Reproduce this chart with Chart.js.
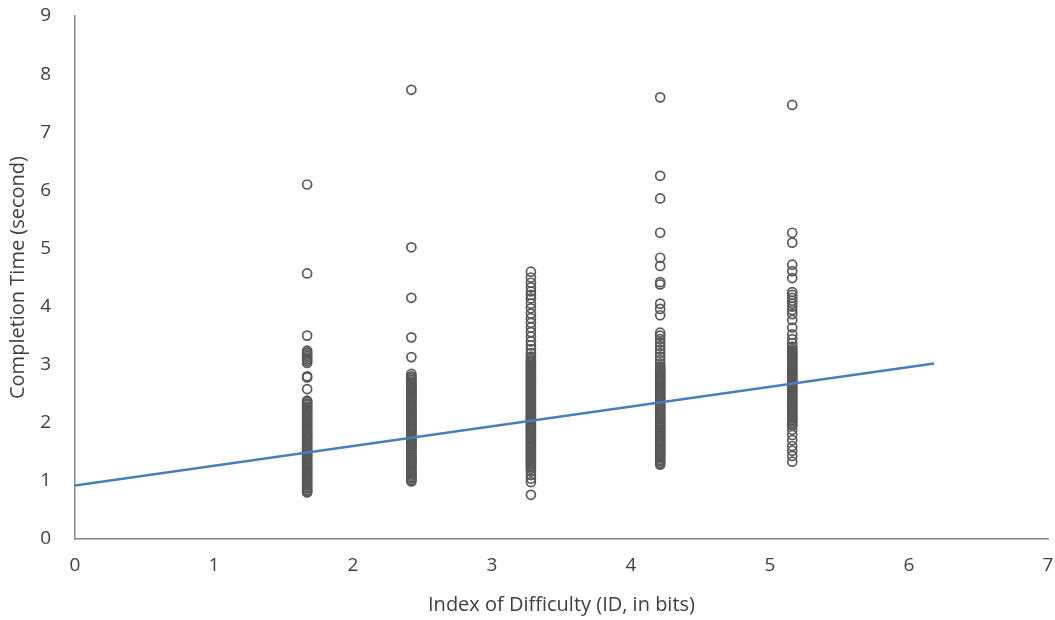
<!DOCTYPE html>
<html>
<head>
<meta charset="utf-8">
<script src="https://cdn.jsdelivr.net/npm/chart.js@4/dist/chart.umd.min.js"></script>
<style>
  html, body { margin: 0; padding: 0; background: #fff; }
  #wrap { width: 1055px; height: 620px; position: relative; }
</style>
</head>
<body>
<div id="wrap"><canvas id="chart"></canvas></div>
<script>
(function () {
  'use strict';

  // index of difficulty (bits) for each target condition
  var idValues = [1.67, 2.42, 3.28, 4.21, 5.16];

  // completion times (seconds), one list per ID
  var timesId1 = [6.1, 4.57, 3.5, 3.24, 3.21, 3.18, 3.15, 3.12, 3.09, 3.06, 3.03, 2.8, 2.78, 2.58,
    2.38, 2.36, 2.33, 2.31, 2.28, 2.26, 2.23, 2.2, 2.18, 2.15, 2.13, 2.1, 2.08, 2.05, 2.02, 2.0,
    1.97, 1.95, 1.92, 1.9, 1.87, 1.84, 1.82, 1.79, 1.77, 1.74, 1.72, 1.69, 1.66, 1.64, 1.61, 1.59,
    1.56, 1.54, 1.51, 1.48, 1.46, 1.43, 1.41, 1.38, 1.36, 1.33, 1.3, 1.28, 1.25, 1.23, 1.2, 1.18,
    1.15, 1.12, 1.1, 1.07, 1.05, 1.02, 1.0, 0.97, 0.94, 0.92, 0.89, 0.87, 0.84, 0.82, 0.8];
  var timesId2 = [7.73, 5.02, 4.15, 3.47, 3.13, 2.84, 2.8, 2.77, 2.74, 2.71, 2.68, 2.66, 2.63, 2.61,
    2.58, 2.56, 2.53, 2.5, 2.48, 2.45, 2.43, 2.4, 2.38, 2.35, 2.32, 2.3, 2.27, 2.25, 2.22, 2.2,
    2.17, 2.14, 2.12, 2.09, 2.07, 2.04, 2.02, 1.99, 1.96, 1.94, 1.91, 1.89, 1.86, 1.84, 1.81, 1.78,
    1.76, 1.73, 1.71, 1.68, 1.66, 1.63, 1.6, 1.58, 1.55, 1.53, 1.5, 1.48, 1.45, 1.42, 1.4, 1.37,
    1.35, 1.32, 1.3, 1.27, 1.24, 1.22, 1.19, 1.17, 1.14, 1.12, 1.09, 1.06, 1.04, 1.01, 0.99];
  var timesId3 = [4.6, 4.5, 4.41, 4.33, 4.26, 4.2, 4.14, 4.05, 3.97, 3.88, 3.8, 3.72, 3.64, 3.56,
    3.48, 3.4, 3.33, 3.27, 3.2, 3.14, 3.1, 3.07, 3.04, 3.02, 2.99, 2.97, 2.94, 2.91, 2.89, 2.86,
    2.84, 2.81, 2.78, 2.76, 2.73, 2.71, 2.68, 2.66, 2.63, 2.6, 2.58, 2.55, 2.53, 2.5, 2.47, 2.45,
    2.42, 2.4, 2.37, 2.35, 2.32, 2.29, 2.27, 2.24, 2.22, 2.19, 2.16, 2.14, 2.11, 2.09, 2.06, 2.04,
    2.01, 1.98, 1.96, 1.93, 1.91, 1.88, 1.86, 1.83, 1.8, 1.78, 1.75, 1.73, 1.7, 1.67, 1.65, 1.62,
    1.6, 1.57, 1.55, 1.52, 1.49, 1.47, 1.44, 1.42, 1.39, 1.37, 1.34, 1.31, 1.29, 1.26, 1.24, 1.21,
    1.16, 1.1, 1.04, 0.98, 0.76];
  var timesId4 = [7.6, 6.25, 5.86, 5.27, 4.84, 4.7, 4.42, 4.38, 4.05, 3.96, 3.85, 3.55, 3.5, 3.44,
    3.38, 3.32, 3.26, 3.2, 3.14, 3.08, 3.02, 2.97, 2.94, 2.91, 2.89, 2.86, 2.84, 2.81, 2.78, 2.76,
    2.73, 2.71, 2.68, 2.65, 2.63, 2.6, 2.58, 2.55, 2.53, 2.5, 2.47, 2.45, 2.42, 2.4, 2.37, 2.34,
    2.32, 2.29, 2.27, 2.24, 2.22, 2.19, 2.16, 2.14, 2.11, 2.09, 2.06, 2.03, 2.01, 1.98, 1.96, 1.93,
    1.91, 1.88, 1.85, 1.83, 1.8, 1.78, 1.75, 1.72, 1.7, 1.67, 1.65, 1.62, 1.6, 1.57, 1.54, 1.52,
    1.49, 1.47, 1.44, 1.41, 1.39, 1.36, 1.34, 1.31, 1.28];
  var timesId5 = [7.47, 5.27, 5.1, 4.72, 4.61, 4.49, 4.25, 4.2, 4.15, 4.1, 4.05, 4.0, 3.94, 3.87,
    3.77, 3.64, 3.52, 3.44, 3.37, 3.31, 3.27, 3.24, 3.21, 3.19, 3.16, 3.14, 3.11, 3.09, 3.06, 3.03,
    3.01, 2.98, 2.96, 2.93, 2.9, 2.88, 2.85, 2.83, 2.8, 2.78, 2.75, 2.72, 2.7, 2.67, 2.65, 2.62,
    2.59, 2.57, 2.54, 2.52, 2.49, 2.47, 2.44, 2.41, 2.39, 2.36, 2.34, 2.31, 2.28, 2.26, 2.23, 2.21,
    2.18, 2.16, 2.13, 2.1, 2.08, 2.05, 2.03, 2.0, 1.97, 1.95, 1.88, 1.79, 1.7, 1.6, 1.52, 1.43,
    1.33];

  // linear regression trend line end points
  var trendX = [0, 6.18];
  var trendY = [0.92, 3.02];

  var xTicks = [0, 1, 2, 3, 4, 5, 6, 7];
  var yTicks = [0, 1, 2, 3, 4, 5, 6, 7, 8, 9];

  var FONT = '"Open Sans", "Liberation Sans", sans-serif';
  var TEXT = '#404040';
  var AXIS = '#868686';

  var allTimes = [timesId1, timesId2, timesId3, timesId4, timesId5];
  var points = [];
  allTimes.forEach(function (list, i) {
    list.forEach(function (t) {
      points.push({ x: idValues[i], y: t });
    });
  });

  var trend = trendX.map(function (x, i) {
    return { x: x, y: trendY[i] };
  });

  new Chart(document.getElementById('chart'), {
    type: 'scatter',
    data: {
      datasets: [
        {
          label: 'Completion time',
          data: points,
          order: 2,
          pointStyle: 'circle',
          pointRadius: 4.5,
          pointBorderWidth: 1.7,
          pointBackgroundColor: 'rgba(255,255,255,0)',
          pointBorderColor: '#585858',
        },
        {
          label: 'Linear fit',
          type: 'line',
          data: trend,
          order: 1,
          borderColor: '#4a7ebb',
          borderWidth: 2.5,
          pointRadius: 0,
          fill: false,
          tension: 0,
        },
      ],
    },
    options: {
      responsive: true,
      maintainAspectRatio: false,
      animation: false,
      layout: { padding: { top: 16, right: 7, left: 0, bottom: 0 } },
      plugins: {
        legend: { display: false },
        tooltip: { enabled: false },
      },
      scales: {
        x: {
          type: 'linear',
          min: 0,
          max: 7,
          afterFit: function (s) {
            s.height = 81;
            s.paddingLeft = 0;
            s.paddingRight = 0;
          },
          afterBuildTicks: function (s) {
            s.ticks = xTicks.map(function (v) { return { value: v }; });
          },
          grid: { display: false, drawTicks: false },
          border: { display: true, color: AXIS, width: 1.5 },
          ticks: { color: TEXT, padding: 15, font: { family: FONT, size: 19 } },
          title: {
            display: true,
            text: 'Index of Difficulty (ID, in bits)',
            color: TEXT,
            padding: { top: 0, bottom: 3 },
            font: { family: FONT, size: 20 },
          },
        },
        y: {
          type: 'linear',
          min: 0,
          max: 9,
          afterFit: function (s) {
            s.width = 75;
            s.paddingTop = 0;
            s.paddingBottom = 0;
          },
          afterBuildTicks: function (s) {
            s.ticks = yTicks.map(function (v) { return { value: v }; });
          },
          grid: { display: false, drawTicks: false },
          border: { display: true, color: AXIS, width: 1.5 },
          ticks: { color: TEXT, padding: 24, font: { family: FONT, size: 19 } },
          title: {
            display: true,
            text: 'Completion Time (second)',
            color: TEXT,
            padding: { top: 6, bottom: 0 },
            font: { family: FONT, size: 20 },
          },
        },
      },
    },
  });
})();
</script>
</body>
</html>
